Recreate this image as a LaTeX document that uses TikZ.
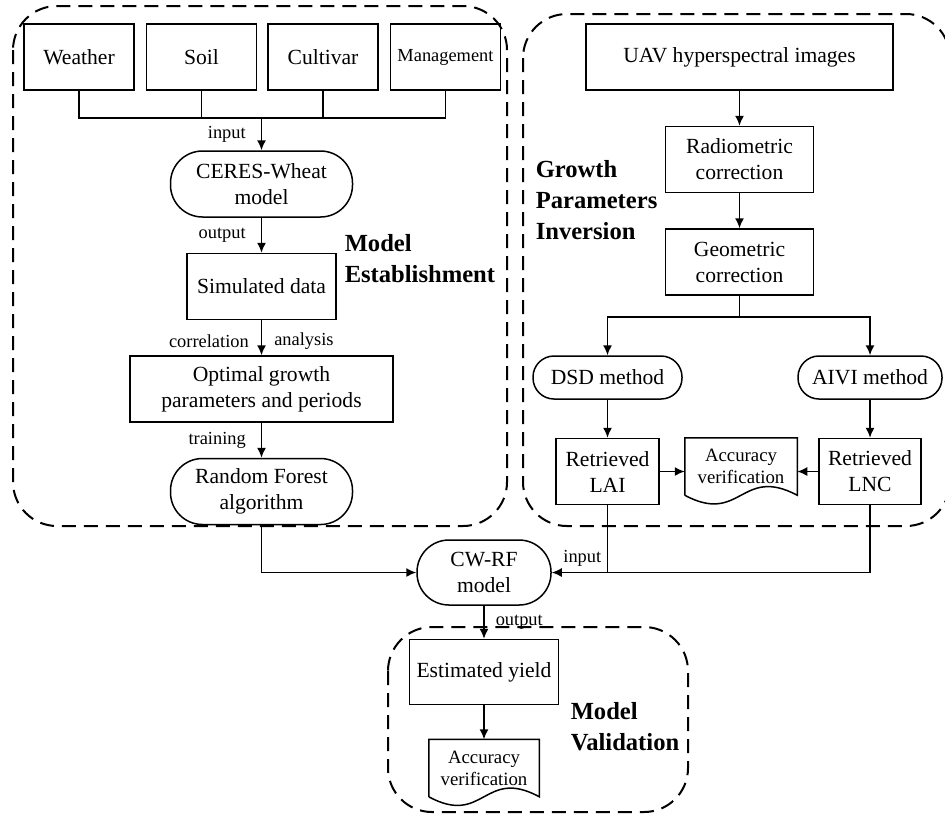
\documentclass[tikz,border=0pt]{standalone}
\usepackage{fontspec}
\setmainfont{Liberation Serif}
\usepackage{tikz}
\usetikzlibrary{positioning}
\usetikzlibrary{calc,arrows.meta}

% wavy document outline round a node
\newcommand{\docwave}[1]{%
  \draw (#1.south west) -- (#1.north west) -- (#1.north east) -- (#1.south east)
    .. controls ($(#1.south)+(0,15pt)$) and ($(#1.south)+(0,-15pt)$) .. (#1.south west);}

\begin{document}
\begin{tikzpicture}[x=0.5pt,y=-0.5pt,line width=0.75pt,node distance=17.5pt,
  >={Latex[length=5pt,width=4.5pt]},
  every node/.style={font=\fontsize{10.8}{13}\selectfont},
  proc/.style={draw,rectangle,align=center,inner sep=2pt,minimum height=33pt},
  src/.style={proc,minimum width=55pt},
  term/.style={draw,rectangle,rounded corners=16pt,align=center,inner sep=2pt,minimum height=33pt},
  docu/.style={align=center,inner sep=1pt,minimum width=55.5pt,minimum height=28pt,font=\fontsize{9.4}{11}\selectfont},
  lbl/.style={inner sep=1pt,font=\fontsize{9.2}{11}\selectfont},
  head/.style={anchor=west,align=left,inner sep=0pt,font=\bfseries\fontsize{12.3}{15.5}\selectfont},
  grp/.style={dash pattern=on 7pt off 4pt,line width=1pt,rounded corners=22pt}]

\useasboundingbox (0,0) rectangle (945,814);

% model establishment
\node[src] (weather) at (79,57) {Weather};
\node[src,right=5.5pt of weather] (soil) {Soil};
\node[src,right=5pt of soil] (cultivar) {Cultivar};
\node[src,right=5.5pt of cultivar,font=\fontsize{9.2}{11}\selectfont] (manage) {Management};
\coordinate (bus) at (261.5,118);
\node[term,minimum width=91pt] (ceres) at (261.5,184) {CERES-Wheat\\model};
\node[proc,minimum width=74.5pt,below=of ceres] (sim) {Simulated data};
\node[proc,minimum width=131.5pt,below=of sim] (optim) {Optimal growth\\parameters and periods};
\node[term,minimum width=91pt,below=of optim] (rf) {Random Forest\\algorithm};
\node[head] (estab) at (344,259) {Model\\Establishment};

\draw (weather.south) |- (manage.south |- bus) -- (manage.south);
\draw (soil.south) -- (soil.south |- bus);
\draw (cultivar.south) -- (cultivar.south |- bus);
\path[->]
        (bus) edge node[lbl,left=6.5pt] (in1) {input} (ceres)
        (ceres) edge node[lbl,left=6.5pt] (out1) {output} (sim)
        (sim) edge node[lbl,left=5pt,pos=0.6] (corr) {correlation}
                   node[lbl,right=5pt,pos=0.6] (anal) {analysis} (optim)
        (optim) edge node[lbl,left=6.5pt] (train) {training} (rf);

% growth parameters inversion
\node[proc,minimum width=153.5pt] (uav) at (739.5,57) {UAV hyperspectral images};
\node[proc,minimum width=74pt,below=of uav] (radio) {Radiometric\\correction};
\node[proc,minimum width=74pt,below=of radio] (geo) {Geometric\\correction};
\coordinate (split) at (739.5,317);
\node[term,rounded corners=10.5pt,minimum width=74.5pt,minimum height=21.5pt] (dsd) at (607.5,377.5) {DSD method};
\node[term,rounded corners=10.5pt,minimum width=72pt,minimum height=21.5pt] (aivi) at (870,377.5) {AIVI method};
\node[proc,minimum width=51.5pt,below=19pt of dsd] (lai) {Retrieved\\LAI};
\node[proc,minimum width=51pt,below=19pt of aivi] (lnc) {Retrieved\\LNC};
\node[docu,right=12.5pt of lai.north east,anchor=north west] (acc1) {Accuracy\\verification};
\docwave{acc1}
\node[head] (gpi) at (535,200) {Growth\\Parameters\\Inversion};

\path[->]
        (uav) edge (radio)
        (radio) edge (geo)
        (dsd) edge (lai)
        (aivi) edge (lnc);
\draw (geo) -- (split);
\draw[->] (split) -| (dsd);
\draw[->] (split) -| (aivi);
\draw[->] (lai) -- (lai -| acc1.west);
\draw[->] (lnc) -- (lnc -| acc1.east);

% coupling
\node[term,minimum width=67pt,minimum height=32.5pt] (cwrf) at (484,572.5) {CW-RF\\model};
\draw[->] (rf) |- (cwrf);
\draw[->] (lnc) |- (cwrf);
\draw (lai) -- (lai |- cwrf) node[lbl,above left=2.5pt] (in2) {input};

% model validation
\node[proc,minimum width=74.5pt,minimum height=32.5pt,below=16.5pt of cwrf] (yield) {Estimated yield};
\node[docu,minimum width=54.5pt,below=17pt of yield] (acc2) {Accuracy\\verification};
\docwave{acc2}
\node[head] (valid) at (570,727) {Model\\Validation};
\path[->]
        (cwrf) edge node[lbl,right=4.5pt] (out2) {output} (yield)
        (yield) edge (acc2);

% dashed groups
\draw[grp] (13,6) rectangle (507,526);
\draw[grp] (523,14) rectangle (950,526);
\draw[grp] (388,627) rectangle (688,812);
\end{tikzpicture}
\end{document}
